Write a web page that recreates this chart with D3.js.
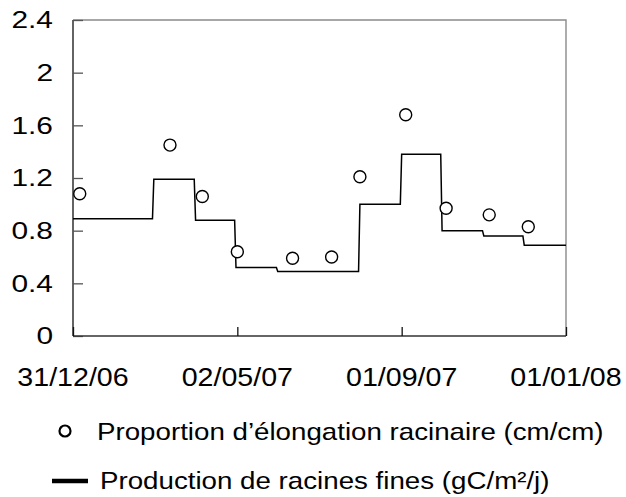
<!DOCTYPE html>
<html>
<head>
<meta charset="utf-8">
<script src="https://cdn.jsdelivr.net/npm/d3@7"></script>
<style>
  html, body { margin: 0; padding: 0; background: #fff; }
  svg { display: block; }
  text { font-family: "Liberation Sans", Arial, sans-serif; fill: #000; }
</style>
</head>
<body>
<svg id="chart" width="626" height="497"></svg>
<script>
// ---- data ----
const monthStarts = ["2006-12-31","2007-02-01","2007-03-01","2007-04-01","2007-05-01","2007-06-01",
                     "2007-07-01","2007-08-01","2007-09-01","2007-10-01","2007-11-01","2007-12-01"];
const periodEnd = "2008-01-01";
const production = [0.89, 0.89, 1.19, 0.88, 0.52, 0.49, 0.49, 1.00, 1.38, 0.80, 0.76, 0.69];

const elongDates = ["2007-01-05","2007-03-13","2007-04-06","2007-05-02","2007-06-12","2007-07-11",
                    "2007-08-01","2007-09-04","2007-10-04","2007-11-05","2007-12-04"];
const elongation = [1.08, 1.45, 1.06, 0.64, 0.59, 0.60, 1.21, 1.68, 0.97, 0.92, 0.83];

const xTickDates = ["2006-12-31","2007-05-02","2007-09-01","2008-01-01"];
const yTicks = [0, 0.4, 0.8, 1.2, 1.6, 2, 2.4];

const legendLabels = ["Proportion d\u2019élongation racinaire (cm/cm)",
                      "Production de racines fines (gC/m\u00b2/j)"];

// ---- layout ----
const parse = d3.utcParse("%Y-%m-%d");
const fmt = d3.utcFormat("%d/%m/%y");
const svg = d3.select("#chart");
const pL = 73, pR = 566, pT = 20, pB = 336;

const x = d3.scaleUtc().domain([parse(xTickDates[0]), parse(periodEnd)]).range([pL, pR]);
const y = d3.scaleLinear().domain([0, 2.4]).range([pB, pT]);

// frame (top & right grey)
svg.append("path")
  .attr("d", `M${pL},${pT}H${pR}V${pB}`)
  .attr("fill", "none").attr("stroke", "#8a8a8a").attr("stroke-width", 1.4);

// y axis (ticks inward)
const yAxis = svg.append("g").attr("transform", `translate(${pL},0)`)
  .call(d3.axisRight(y).tickValues(yTicks).tickSize(10).tickFormat(""));
yAxis.select(".domain").attr("d", `M0,${pT}V${pB}`).attr("stroke", "#222").attr("stroke-width", 1.4);
yAxis.selectAll(".tick line").attr("stroke", "#555").attr("stroke-width", 1.3);

// y labels (horizontally stretched like the reference)
svg.append("g").selectAll("text").data(yTicks).join("text")
  .attr("transform", d => `translate(53,${y(d)}) scale(1.3,1)`)
  .attr("text-anchor", "end").attr("dy", "0.36em")
  .style("font-size", "23px")
  .text(d => d3.format("~g")(d));

// x axis (ticks inward)
const xAxis = svg.append("g").attr("transform", `translate(0,${pB})`)
  .call(d3.axisTop(x).tickValues(xTickDates.map(parse)).tickSize(9).tickFormat(""));
xAxis.select(".domain").attr("d", `M${pL},0H${pR}`).attr("stroke", "#333").attr("stroke-width", 1.4);
xAxis.selectAll(".tick line").attr("stroke", "#111").attr("stroke-width", 1.3);

svg.append("g").selectAll("text").data(xTickDates).join("text")
  .attr("transform", d => `translate(${x(parse(d))},386) scale(1.1,1)`)
  .attr("text-anchor", "middle")
  .style("font-size", "26px")
  .text(d => fmt(parse(d)));

// step line: each month flat, 1-day transition between months
const DAY = 864e5;
const stepPts = [];
monthStarts.forEach((m, i) => {
  const s = parse(m);
  const e = i < monthStarts.length - 1 ? new Date(parse(monthStarts[i + 1]).getTime() - DAY) : parse(periodEnd);
  stepPts.push([s, production[i]], [e, production[i]]);
});
svg.append("path")
  .datum(stepPts)
  .attr("fill", "none").attr("stroke", "#000").attr("stroke-width", 1.5)
  .attr("d", d3.line().x(d => x(d[0])).y(d => y(d[1])));

// circles
svg.append("g").selectAll("circle").data(elongDates.map((d, i) => [parse(d), elongation[i]])).join("circle")
  .attr("cx", d => x(d[0])).attr("cy", d => y(d[1])).attr("r", 6)
  .attr("fill", "#fff").attr("stroke", "#000").attr("stroke-width", 1.4);

// legend
const leg = svg.append("g");
leg.append("circle").attr("cx", 65).attr("cy", 431).attr("r", 5.5)
  .attr("fill", "#fff").attr("stroke", "#000").attr("stroke-width", 2.2);
leg.append("line").attr("x1", 52).attr("x2", 88).attr("y1", 481).attr("y2", 481)
  .attr("stroke", "#000").attr("stroke-width", 4.5);
leg.selectAll("text").data(legendLabels).join("text")
  .attr("transform", (d, i) => `translate(${i === 0 ? 97 : 100},${i === 0 ? 440 : 489}) scale(1.155,1)`)
  .style("font-size", "24px")
  .text(d => d);
</script>
</body>
</html>
